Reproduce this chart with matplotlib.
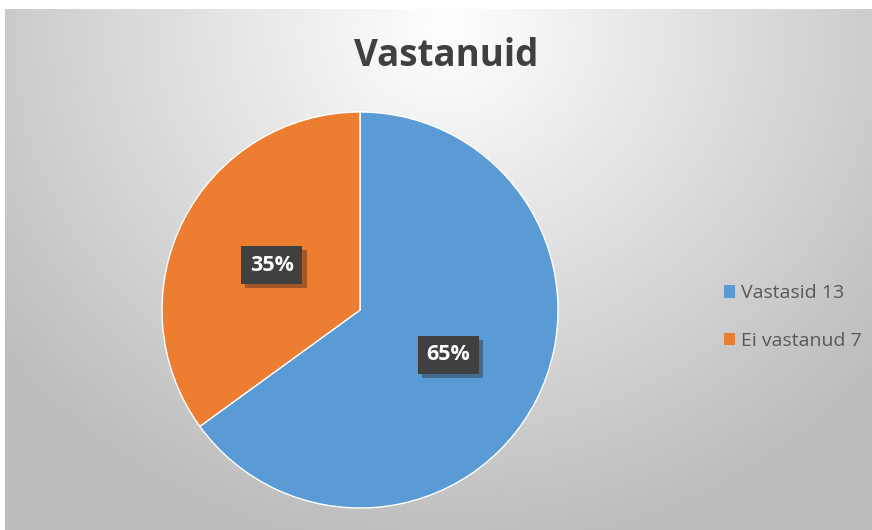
import numpy as np
import matplotlib
matplotlib.use("Agg")
import matplotlib.pyplot as plt
import matplotlib.patheffects as pe
from matplotlib.patches import Patch

title = "Vastanuid"
labels = ["Vastasid 13", "Ei vastanud 7"]
values = [13, 7]
colors = ["#5B9BD5", "#ED7D31"]

plt.rcParams["font.family"] = ["Open Sans", "DejaVu Sans"]

W, H = 872, 530
fig = plt.figure(figsize=(W / 100, H / 100), dpi=100)
fig.patch.set_facecolor("white")

# radial grey background of the chart area
bg = fig.add_axes([5 / W, 0, (W - 5) / W, (H - 9) / H])
bg.set_axis_off()
yy, xx = np.mgrid[0:H - 9, 0:W - 5]
d = np.hypot((xx - 440) / 560, (yy - 20) / 520)
shade = np.clip(1.0 - 0.26 * d, 0.74, 1.0)
bg.imshow(np.dstack([shade] * 3), aspect="auto", interpolation="bilinear")

ax = fig.add_axes([162 / W, 22 / H, 396 / W, 396 / H])
wedges, _, autotexts = ax.pie(
    values, colors=colors, startangle=90, counterclock=False,
    autopct="%1.0f%%", pctdistance=0.5,
    wedgeprops=dict(edgecolor="white", linewidth=1.0),
    textprops=dict(color="white", fontsize=15.5, fontweight="bold"))
ax.set_xlim(-1, 1)
ax.set_ylim(-1, 1)

for t in autotexts:
    t.set_bbox(dict(boxstyle="square,pad=0.4", facecolor="#404040",
                    edgecolor="none"))
    t.get_bbox_patch().set_path_effects(
        [pe.SimplePatchShadow(offset=(3, -3), alpha=0.35), pe.Normal()])

fig.text(446 / W, 1 - 56 / H, title, ha="center", va="center",
         fontsize=26.5, fontweight="bold", color="#404040")

handles = [Patch(facecolor=c, edgecolor="none") for c in colors]
fig.legend(handles, labels, loc="center left",
           bbox_to_anchor=(706 / W, 1 - 317 / H), frameon=False,
           fontsize=14, labelcolor="#595959", handlelength=0.6,
           handleheight=0.6, handletextpad=0.3, labelspacing=1.5)

fig.savefig("out.png", dpi=100)
